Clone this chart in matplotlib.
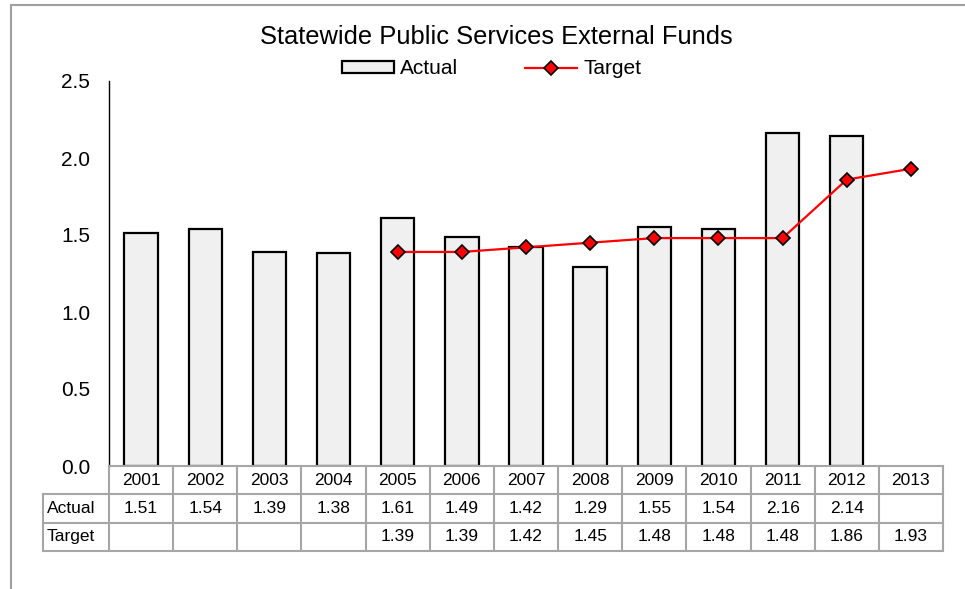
import matplotlib.pyplot as plt
import matplotlib.patches as mpatches
from matplotlib.lines import Line2D
import numpy as np

plt.rcParams['font.family'] = ['Liberation Sans', 'DejaVu Sans']

years = ['2001', '2002', '2003', '2004', '2005', '2006', '2007',
         '2008', '2009', '2010', '2011', '2012', '2013']
actual = [1.51, 1.54, 1.39, 1.38, 1.61, 1.49, 1.42, 1.29, 1.55, 1.54, 2.16, 2.14, None]
target = [None, None, None, None, 1.39, 1.39, 1.42, 1.45, 1.48, 1.48, 1.48, 1.86, 1.93]
yticks = [0.0, 0.5, 1.0, 1.5, 2.0, 2.5]

W, H = 965, 589
fig = plt.figure(figsize=(W / 100, H / 100), dpi=100)

# plot area in pixel terms
px_left, px_right, px_top, px_bot = 109, 943, 81, 466
ax = fig.add_axes([px_left / W, 1 - px_bot / H, (px_right - px_left) / W, (px_bot - px_top) / H])

x = np.arange(len(years))
act_x = [i for i, v in enumerate(actual) if v is not None]
act_v = [v for v in actual if v is not None]
tgt_x = [i for i, v in enumerate(target) if v is not None]
tgt_v = [v for v in target if v is not None]

ax.bar(act_x, act_v, width=0.52, color='#f0f0f0', edgecolor='black', linewidth=1.6, zorder=2)
ax.plot(tgt_x, tgt_v, color='#ff0000', linewidth=1.6, marker='D', markersize=7,
        markerfacecolor='#ff0000', markeredgecolor='black', markeredgewidth=1.2, zorder=3)

ax.set_xlim(-0.5, len(years) - 0.5)
ax.set_ylim(0, 2.5)
ax.set_yticks(yticks)
ax.set_yticklabels([f'{t:.1f}' for t in yticks], fontsize=15)
ax.tick_params(axis='y', length=0, pad=13.5)
ax.set_xticks([])
for s in ['top', 'right', 'bottom']:
    ax.spines[s].set_visible(False)
ax.spines['left'].set_linewidth(1.0)
ax.patch.set_alpha(0)

# data table below the plot
lab_px = px_left - 43
cw = (px_right - px_left) / len(years)
tab = fig.add_axes([43 / W, 1 - 551 / H, (px_right - 43) / W, (551 - px_bot) / H])
tab.set_xlim(-0.5 - lab_px / cw, len(years) - 0.5)
tab.set_ylim(3, 0)
tab.axis('off')
gc = '#a6a6a6'
lw = 1.5
x0 = -0.5 - lab_px / cw
xr = len(years) - 0.5
# horizontal lines
tab.plot([-0.5, xr], [0, 0], color=gc, lw=lw, clip_on=False)
for r in [1, 2, 3]:
    tab.plot([x0, xr], [r, r], color=gc, lw=lw, clip_on=False)
# vertical lines
tab.plot([x0, x0], [1, 3], color=gc, lw=lw, clip_on=False)
for i in range(len(years) + 1):
    tab.plot([i - 0.5, i - 0.5], [0, 3], color=gc, lw=lw, clip_on=False)

for i, yr in enumerate(years):
    tab.text(i, 0.5, yr, ha='center', va='center', fontsize=12.5)
    if actual[i] is not None:
        tab.text(i, 1.5, f'{actual[i]:.2f}', ha='center', va='center', fontsize=12.5)
    if target[i] is not None:
        tab.text(i, 2.5, f'{target[i]:.2f}', ha='center', va='center', fontsize=12.5)
tab.text(x0 + 0.06, 1.5, 'Actual', ha='left', va='center', fontsize=12.5)
tab.text(x0 + 0.06, 2.5, 'Target', ha='left', va='center', fontsize=12.5)

# title and legend
fig.text(496.5 / W, 1 - 37 / H, 'Statewide Public Services External Funds',
         ha='center', va='center', fontsize=18.4)
h_act = mpatches.Patch(facecolor='#f0f0f0', edgecolor='black', linewidth=1.6)
h_tgt = Line2D([], [], color='#ff0000', linewidth=1.6, marker='D', markersize=7,
               markerfacecolor='#ff0000', markeredgecolor='black', markeredgewidth=1.2)
fig.legend([h_act, h_tgt], ['Actual', 'Target'], loc='center', bbox_to_anchor=(491.5 / W, 1 - 69 / H),
           ncol=2, frameon=False, fontsize=15, handlelength=2.5, handleheight=0.5,
           handletextpad=0.3, columnspacing=3.2, borderpad=0)

# outer chart border (only top and left edges fall inside the image)
border = mpatches.Rectangle((10.5 / W, -0.2), 1.5, 1.2 - 4.5 / H, transform=fig.transFigure,
                            fill=False, edgecolor='#a0a0a0', linewidth=1.5, clip_on=False)
fig.patches.append(border)

fig.savefig('out.png', dpi=100)
